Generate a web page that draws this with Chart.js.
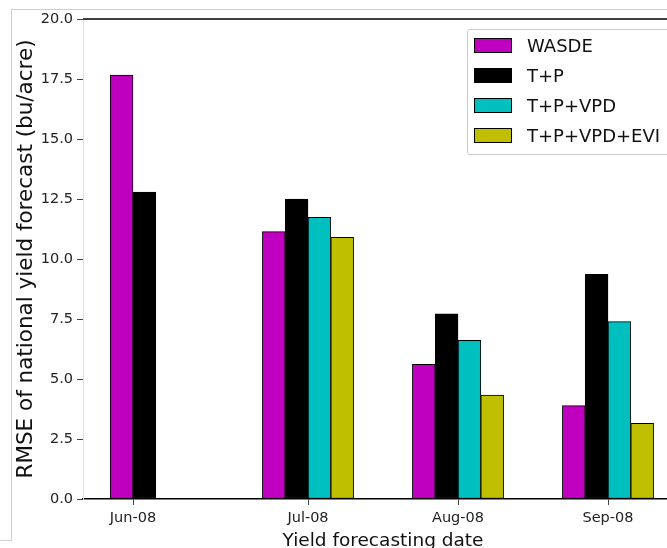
<!DOCTYPE html>
<html>
<head>
<meta charset="utf-8">
<title>RMSE of national yield forecast</title>
<script src="https://cdn.jsdelivr.net/npm/chart.js@4.4.0/dist/chart.umd.min.js"></script>
<style>
  html, body { margin: 0; padding: 0; background: #fff; overflow: hidden; }
  #wrap { position: relative; width: 667px; height: 548px; overflow: hidden; }
  #frame { position: absolute; left: 11px; top: 9px; width: 700px; height: 531px;
           border-top: 1px solid #cfcfcf; border-left: 1px solid #cfcfcf; }
  #frameFoot { position: absolute; left: 0; top: 540px; width: 12px; border-top: 1px solid #cfcfcf; }
  #mycanvas { position: absolute; left: 0; top: 0; }
  #legend { position: absolute; left: 467px; top: 29px; width: 230px; height: 124px;
            border: 1px solid #cccccc; border-radius: 3px; background: rgba(255,255,255,0.85);
            font-family: "DejaVu Sans", sans-serif; font-size: 18px; color: #111; }
  #legend .row { height: 30px; display: flex; align-items: center; }
  #legend .swatch { display: inline-block; box-sizing: border-box; width: 38px; height: 15px;
                    margin-left: 6px; margin-right: 15px; border: 1px solid #000; }
</style>
</head>
<body>
<div id="wrap">
  <div id="frame"></div>
  <div id="frameFoot"></div>
  <canvas id="mycanvas" width="683" height="560"></canvas>
  <div id="legend"></div>
</div>
<script>
// forecast dates and their place on the date axis
var dateLabels = ["Jun-08", "Jul-08", "Aug-08", "Sep-08"];
var datePos = [0, 7, 13, 19];

// RMSE (bu/acre)
var wasde = [17.66, 11.14, 5.61, 3.89];
var tp = [12.79, 12.5, 7.72, 9.36];
var tpVpd = [null, 11.74, 6.61, 7.39];
var tpVpdEvi = [null, 10.9, 4.33, 3.15];

var yMin = 0, yMax = 20, yStep = 2.5;

function toPoints(arr) {
  return arr.map(function(v, i) { return { x: datePos[i], y: v }; });
}

var htmlLegend = {
  id: "htmlLegend",
  afterUpdate: function(chart) {
    var box = document.getElementById("legend");
    box.innerHTML = "";
    chart.data.datasets.forEach(function(ds) {
      var row = document.createElement("div");
      row.className = "row";
      var sw = document.createElement("span");
      sw.className = "swatch";
      sw.style.background = ds.backgroundColor;
      var tx = document.createElement("span");
      tx.textContent = ds.label;
      row.appendChild(sw);
      row.appendChild(tx);
      box.appendChild(row);
    });
  }
};

// top spine of the axes box
var topSpine = {
  id: "topSpine",
  afterDraw: function(chart) {
    var a = chart.chartArea, ctx = chart.ctx;
    ctx.save();
    ctx.strokeStyle = "#000";
    ctx.lineWidth = 1.5;
    ctx.beginPath();
    ctx.moveTo(a.left, a.top);
    ctx.lineTo(a.right, a.top);
    ctx.stroke();
    ctx.restore();
  }
};

Chart.defaults.font.family = "'DejaVu Sans', sans-serif";
Chart.defaults.color = "#222";

var chartdata = {
  datasets: [
    { label: "WASDE", backgroundColor: "#bf00bf", data: toPoints(wasde) },
    { label: "T+P", backgroundColor: "#000000", data: toPoints(tp) },
    { label: "T+P+VPD", backgroundColor: "#00bfbf", data: toPoints(tpVpd) },
    { label: "T+P+VPD+EVI", backgroundColor: "#bfbf00", data: toPoints(tpVpdEvi) }
  ]
};

var ctx = document.getElementById("mycanvas");

var barGraph = new Chart(ctx, {
  type: "bar",
  data: chartdata,
  plugins: [htmlLegend, topSpine],
  options: {
    responsive: false,
    animation: false,
    layout: { padding: { left: 0, top: 19, right: 0, bottom: 0 } },
    datasets: {
      bar: {
        skipNull: true,
        barThickness: 22.8,
        borderWidth: 1,
        borderColor: "#000",
        borderSkipped: false
      }
    },
    plugins: {
      legend: { display: false },
      tooltip: { enabled: false }
    },
    scales: {
      x: {
        type: "linear",
        min: -2,
        max: 22,
        offset: false,
        z: 1,
        afterBuildTicks: function(scale) {
          scale.ticks = datePos.map(function(v) { return { value: v }; });
        },
        afterFit: function(scale) { scale.height = 61; },
        ticks: {
          autoSkip: false,
          maxRotation: 0,
          padding: 5,
          font: { size: 14.5 },
          callback: function(value) { return dateLabels[datePos.indexOf(value)]; }
        },
        grid: { offset: false, drawOnChartArea: false, drawTicks: true, tickLength: 6, tickColor: "#444" },
        border: { color: "#000", width: 1.5 },
        title: {
          display: true,
          text: "Yield forecasting date",
          color: "#111",
          font: { size: 18.5 },
          padding: { top: 0, bottom: 8 }
        }
      },
      y: {
        min: yMin,
        max: yMax,
        z: 1,
        afterFit: function(scale) { scale.width = 83; },
        ticks: {
          stepSize: yStep,
          padding: 4,
          font: { size: 14.5 },
          callback: function(v) { return v.toFixed(1); }
        },
        grid: { drawOnChartArea: false, drawTicks: true, tickLength: 6, tickColor: "#444" },
        border: { color: "#dedede", width: 1 },
        title: {
          display: true,
          text: "RMSE of national yield forecast (bu/acre)",
          color: "#111",
          font: { size: 21.5 },
          padding: { top: 14, bottom: 0 }
        }
      }
    }
  }
});
</script>
</body>
</html>
